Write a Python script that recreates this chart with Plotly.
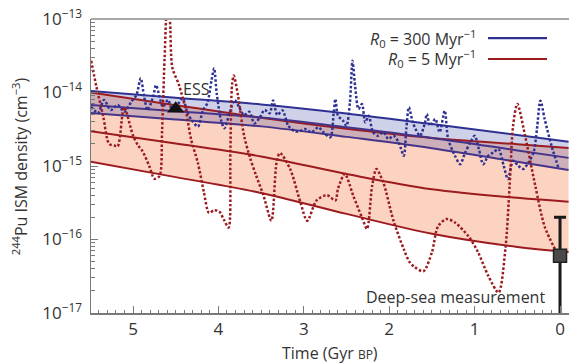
import plotly.graph_objects as go

# ---------------- data ----------------
# smooth model bands (time in Gyr before present, density in cm^-3)
band_t = [5.5, 4.5, 3.5, 2.5, 1.5, 0.5, -0.1]
blue_top = [1.05e-14, 8.5e-15, 6.87e-15, 5.19e-15, 3.72e-15, 2.64e-15, 2.14e-15]
blue_mid = [6.76e-15, 5.57e-15, 4.56e-15, 3.37e-15, 2.41e-15, 1.63e-15, 1.29e-15]
blue_low = [5.26e-15, 4.29e-15, 3.46e-15, 2.49e-15, 1.75e-15, 1.14e-15, 8.83e-16]
red_top = [1.0e-14, 6.73e-15, 4.54e-15, 3.21e-15, 2.41e-15, 1.98e-15, 1.76e-15]
red_mid = [2.99e-15, 2.02e-15, 1.35e-15, 7.79e-16, 4.83e-16, 3.69e-16, 3.27e-16]
red_low = [1.15e-15, 7.06e-16, 4.30e-16, 2.23e-16, 1.20e-16, 7.93e-17, 6.76e-17]

# single realisation, R0 = 300 Myr^-1
blue_real_t = [5.49, 5.41, 5.34, 5.26, 5.18, 5.10, 5.02, 4.96, 4.91, 4.87, 4.83, 4.77,
               4.73, 4.69, 4.65, 4.59, 4.54, 4.48, 4.42, 4.36, 4.30, 4.24, 4.18, 4.13,
               4.08, 4.05, 4.02, 3.97, 3.93, 3.87, 3.81, 3.76, 3.70, 3.64, 3.58, 3.52,
               3.46, 3.40, 3.36, 3.31, 3.25, 3.18, 3.10, 3.04, 2.99, 2.91, 2.83, 2.77,
               2.69, 2.65, 2.63, 2.60, 2.54, 2.50, 2.46, 2.43, 2.40, 2.36, 2.32, 2.28,
               2.24, 2.19, 2.13, 2.07, 2.01, 1.95, 1.89, 1.83, 1.80, 1.77, 1.72, 1.64,
               1.58, 1.56, 1.52, 1.46, 1.41, 1.35, 1.31, 1.23, 1.17, 1.11, 1.05, 1.00,
               0.95, 0.90, 0.84, 0.78, 0.72, 0.66, 0.61, 0.55, 0.49, 0.43, 0.37, 0.31,
               0.27, 0.23, 0.18, 0.10, 0.02]
blue_real = [6.41e-15, 5.26e-15, 7.91e-15, 5.78e-15, 6.76e-15, 5.48e-15, 7.50e-15, 9.25e-15,
             1.56e-14, 8.77e-15, 5.78e-15, 8.34e-15, 1.26e-14, 8.77e-15, 6.41e-15, 7.91e-15,
             5.78e-15, 6.76e-15, 8.34e-15, 5.21e-15, 4.01e-15, 3.43e-15, 5.78e-15, 7.13e-15,
             1.48e-14, 2.13e-14, 9.75e-15, 4.23e-15, 3.26e-15, 5.21e-15, 7.91e-15, 6.41e-15,
             4.94e-15, 5.48e-15, 3.81e-15, 4.46e-15, 5.78e-15, 5.21e-15, 7.8e-15, 4.94e-15,
             5.70e-15, 3.50e-15, 2.95e-15, 3.0e-15, 3.19e-15, 2.88e-15, 3.36e-15, 2.88e-15,
             2.46e-15, 5.38e-15, 8.16e-15, 4.83e-15, 4.13e-15, 3.53e-15, 7.36e-15, 2.71e-14,
             1.24e-14, 5.97e-15, 6.98e-15, 3.93e-15, 4.83e-15, 2.88e-15, 2.58e-15, 2.88e-15,
             2.33e-15, 2.58e-15, 2.10e-15, 1.38e-15, 3.19e-15, 6.29e-15, 3.80e-15, 2.58e-15,
             3.93e-15, 5.10e-15, 3.53e-15, 4.36e-15, 2.88e-15, 5.65e-15, 2.33e-15, 1.38e-15,
             1.06e-15, 1.53e-15, 2.10e-15, 2.58e-15, 1.70e-15, 1.06e-15, 1.38e-15, 1.53e-15,
             1.70e-15, 1.01e-15, 6.65e-16, 1.18e-15, 1.01e-15, 9.1e-16, 1.12e-15, 1.53e-15,
             3.19e-15, 7.73e-15, 4.36e-15, 1.89e-15, 9.6e-16]

# single realisation, R0 = 5 Myr^-1
red_real_t = [5.49, 5.43, 5.35, 5.28, 5.22, 5.18, 5.12, 5.10, 5.00, 4.94, 4.89, 4.81,
              4.75, 4.69, 4.66, 4.63, 4.60, 4.57, 4.54, 4.46, 4.38, 4.32, 4.24, 4.17,
              4.11, 4.05, 3.99, 3.93, 3.88, 3.86, 3.84, 3.82, 3.77, 3.70, 3.63, 3.56,
              3.47, 3.38, 3.32, 3.28, 3.16, 3.04, 2.96, 2.85, 2.73, 2.63, 2.60, 2.52,
              2.42, 2.32, 2.26, 2.20, 2.15, 2.07, 1.95, 1.83, 1.76, 1.70, 1.60, 1.50,
              1.43, 1.33, 1.23, 1.07, 0.96, 0.84, 0.72, 0.64, 0.59, 0.55, 0.50, 0.41,
              0.29, 0.18, 0.04]
red_real = [2.7e-14, 1.22e-14, 4.8e-15, 2.0e-15, 1.9e-15, 1.85e-15, 5.4e-15, 6.3e-15,
            2.6e-15, 1.9e-15, 1.6e-15, 1.0e-15, 6.7e-16, 7.3e-16, 3.0e-15, 3.0e-14,
            1.4e-13, 1.0e-13, 2.2e-14, 1.25e-14, 5.6e-15, 2.3e-15, 1.1e-15, 4.4e-16,
            2.3e-16, 2.5e-16, 2.4e-16, 1.8e-16, 1.45e-16, 1.7e-15, 1.3e-14, 1.7e-14,
            9.0e-15, 2.6e-15, 1.3e-15, 7.5e-16, 3.9e-16, 1.8e-16, 1.1e-15, 1.5e-15,
            9.1e-16, 3.2e-16, 1.8e-16, 3.4e-16, 4.0e-16, 3.4e-16, 4.9e-16, 7.8e-16,
            3.9e-16, 2.0e-16, 1.4e-16, 5.4e-16, 9.1e-16, 6.0e-16, 1.8e-16, 7.4e-17,
            4.9e-17, 4.2e-17, 3.7e-17, 6.7e-17, 1.5e-16, 1.9e-16, 1.7e-16, 1.1e-16,
            6.7e-17, 3.2e-17, 1.9e-17, 7.4e-17, 5.4e-16, 3.5e-15, 7.0e-15, 2.6e-15,
            5.4e-16, 1.5e-16, 6.7e-17]

# early solar system and deep-sea measurement
ess_t = [4.5]
ess_val = [6.0e-15]
sea_t = [0.0]
sea_val = [6.0e-17]
sea_err_plus = [1.4e-16]
sea_err_minus = [5.95e-17]

y_ticks = [1e-17, 1e-16, 1e-15, 1e-14, 1e-13]
y_tick_text = ["10<sup>−17</sup>", "10<sup>−16</sup>", "10<sup>−15</sup>",
               "10<sup>−14</sup>", "10<sup>−13</sup>"]
x_ticks = [5, 4, 3, 2, 1, 0]
x_tick_text = ["5", "4", "3", "2", "1", "0"]

# ---------------- styling ----------------
RED = "#9b1b1f"
BLUE = "#2e3192"
PURPLE = "#45348a"
FONT = "Open Sans"
TXT = "#333333"
AX = "#7a7a7a"

fig = go.Figure()

def line_trace(x, y, **kw):
    fig.add_trace(go.Scatter(x=x, y=y, mode="lines", hoverinfo="skip",
                             showlegend=False, **kw))

# filled bands (fills first, lines drawn later on top)
line_trace(band_t, red_low, line=dict(width=0, shape="spline"))
line_trace(band_t, red_top, line=dict(width=0, shape="spline"),
           fill="tonexty", fillcolor="#fcd2c0")
line_trace(band_t, blue_low, line=dict(width=0, shape="spline"))
line_trace(band_t, blue_top, line=dict(width=0, shape="spline"),
           fill="tonexty", fillcolor="rgba(70,78,165,0.26)")

# band edge / median lines
for arr in (red_low, red_mid, red_top):
    line_trace(band_t, arr, line=dict(width=2, color=RED, shape="spline"))
line_trace(band_t, blue_low, line=dict(width=2, color=PURPLE, shape="spline"))
line_trace(band_t, blue_mid, line=dict(width=2, color=PURPLE, shape="spline"))
line_trace(band_t, blue_top, line=dict(width=2, color=BLUE, shape="spline"))

# single realisations (dotted)
line_trace(blue_real_t, blue_real,
           line=dict(width=2.5, color=BLUE, dash="2.5px,2px", shape="spline", smoothing=0.8))
line_trace(red_real_t, red_real,
           line=dict(width=2.5, color=RED, dash="2.5px,2px", shape="spline", smoothing=0.8))

# ESS marker
fig.add_trace(go.Scatter(x=ess_t, y=ess_val, mode="markers", hoverinfo="skip",
                         showlegend=False,
                         marker=dict(symbol="triangle-up", size=15, color="#111111")))

# deep-sea measurement
fig.add_trace(go.Scatter(x=sea_t, y=sea_val, mode="markers", hoverinfo="skip",
                         showlegend=False, cliponaxis=False,
                         error_y=dict(type="data", symmetric=False,
                                      array=sea_err_plus, arrayminus=sea_err_minus,
                                      color="#1a1a1a", thickness=3, width=6),
                         marker=dict(symbol="square", size=13, color="#4a4a4a",
                                     line=dict(color="#222222", width=1.5))))

# text labels
fig.add_annotation(x=4.26, y=-13.95, xref="x", yref="y", text="ESS", showarrow=False,
                   font=dict(family=FONT, size=16, color=TXT),
                   xanchor="center", yanchor="middle")
fig.add_annotation(x=0.15, y=-16.78, xref="x", yref="y", text="Deep-sea measurement",
                   showarrow=False, font=dict(family=FONT, size=16, color=TXT),
                   xanchor="right", yanchor="middle")

# manual legend (text left, line right)
legend_rows = [("<i>R</i><sub>0</sub> = 300 Myr<sup>−1</sup>", BLUE, 0.935),
               ("<i>R</i><sub>0</sub> = 5 Myr<sup>−1</sup>", RED, 0.864)]
for label, col, yp in legend_rows:
    fig.add_annotation(x=0.81, y=yp, xref="paper", yref="paper", text=label,
                       showarrow=False, xanchor="right", yanchor="middle",
                       font=dict(family=FONT, size=16, color=TXT))
    fig.add_shape(type="line", xref="paper", yref="paper", x0=0.8305, x1=0.954,
                  y0=yp, y1=yp, line=dict(color=col, width=2.2))

# top frame line
fig.add_shape(type="line", xref="paper", yref="paper", x0=0, x1=1, y0=1, y1=1,
              line=dict(color="#a8a8a8", width=2))

# axis titles
fig.add_annotation(x=0.5, y=-0.092, xref="paper", yref="paper",
                   text="Time (Gyr <span style='font-size:12px'>BP</span>)",
                   showarrow=False, xanchor="center", yanchor="top",
                   font=dict(family=FONT, size=16, color=TXT))
fig.add_annotation(x=-0.148, y=0.5, xref="paper", yref="paper",
                   text="<sup>244</sup>Pu ISM density (cm<sup>−3</sup>)",
                   showarrow=False, textangle=-90, xanchor="center", yanchor="middle",
                   font=dict(family=FONT, size=16, color=TXT))

fig.update_layout(
    width=569, height=363,
    margin=dict(l=91, r=0, t=19, b=50),
    paper_bgcolor="white", plot_bgcolor="white",
    showlegend=False,
    font=dict(family=FONT, size=16, color=TXT),
    xaxis=dict(range=[5.492, -0.105], tickvals=x_ticks, ticktext=x_tick_text,
               ticks="inside", ticklen=7,
               tickcolor=AX, tickwidth=1, showline=True, linecolor=AX, linewidth=1.5,
               showgrid=False, zeroline=False, ticklabelstandoff=0,
               ticklabeloverflow="allow",
               tickfont=dict(family=FONT, size=17, color=TXT),
               minor=dict(dtick=0.1, ticks="inside", ticklen=3.5, tickcolor=AX,
                          showgrid=False)),
    yaxis=dict(type="log", range=[-17, -13], tickvals=y_ticks, ticktext=y_tick_text,
               ticks="inside", ticklen=7, tickcolor=AX, tickwidth=1, showline=True,
               linecolor=AX, linewidth=1.5, showgrid=False, zeroline=False,
               ticklabelstandoff=4, ticklabeloverflow="allow",
               tickfont=dict(family=FONT, size=17, color=TXT),
               minor=dict(dtick="D1", ticks="inside", ticklen=4, tickcolor=AX,
                          showgrid=False)),
)

# remove the default 8 px page margin so the figure sits at the window's top-left
fig.write_html("out.html", config={"displayModeBar": False, "staticPlot": True},
               post_script="document.body.style.margin='0';document.body.style.overflow='hidden';")
